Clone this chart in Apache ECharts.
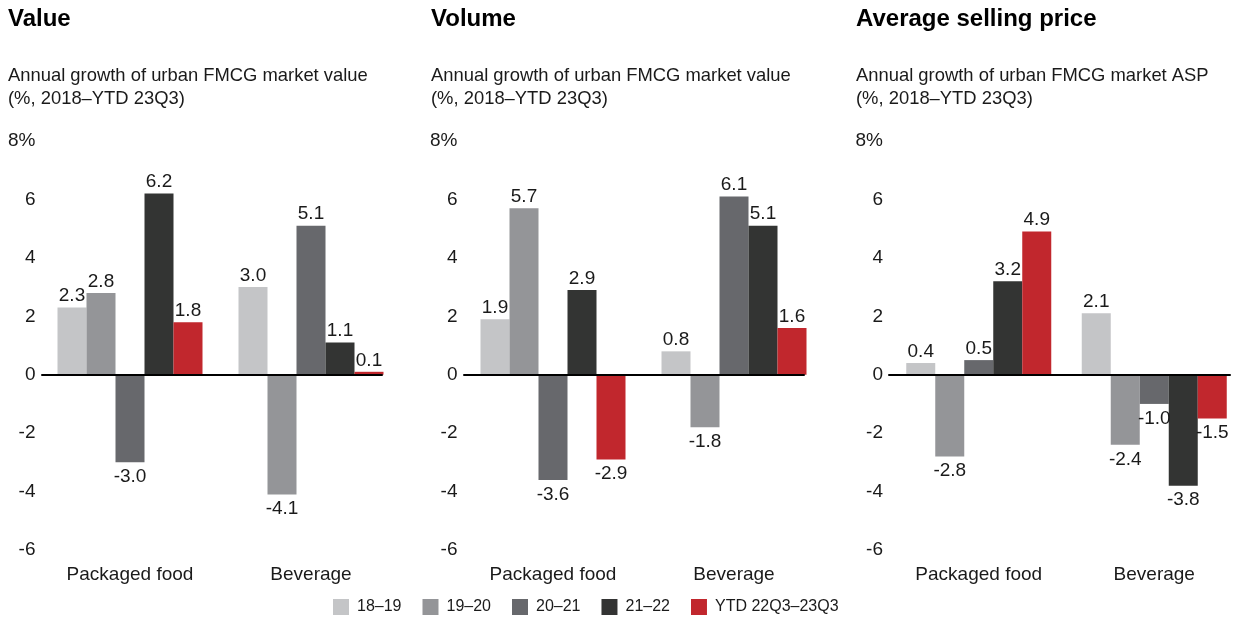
<!DOCTYPE html>
<html>
<head>
<meta charset="utf-8">
<script src="https://cdn.jsdelivr.net/npm/echarts@6/dist/echarts.min.js"></script>
<style>
  html, body { margin: 0; padding: 0; background: #fff; }
  #chart { width: 1242px; height: 620px; }
</style>
</head>
<body>
<div id="chart"></div>
<script>
// categories / periods
var categories = ['Packaged food', 'Beverage'];
var periods = ['18–19', '19–20', '20–21', '21–22', 'YTD 22Q3–23Q3'];

// one row per period: [Packaged food, Beverage]
var valueData = [[2.3, 3.0], [2.8, -4.1], [-3.0, 5.1], [6.2, 1.1], [1.8, 0.1]];
var volumeData = [[1.9, 0.8], [5.7, -1.8], [-3.6, 6.1], [2.9, 5.1], [-2.9, 1.6]];
var aspData = [[0.4, 2.1], [-2.8, -2.4], [0.5, -1.0], [3.2, -3.8], [4.9, -1.5]];

var yTicks = [-6, -4, -2, 0, 2, 4, 6, 8];

var colors = ['#c4c5c7', '#949598', '#67686c', '#333433', '#c1272d'];
var textColor = '#1a1a1a';
var font = 'Liberation Sans, Arial, sans-serif';
var fs = 19;

// left/width: bar grid; lineLeft/lineWidth: extent of the zero baseline
var panels = [
  { title: 'Value', sub: 'Annual growth of urban FMCG market value\n(%, 2018–YTD 23Q3)', data: valueData,
    left: 39.5, width: 362, lineLeft: 42, lineWidth: 340, tleft: 3, ymargin: 4 },
  { title: 'Volume', sub: 'Annual growth of urban FMCG market value\n(%, 2018–YTD 23Q3)', data: volumeData,
    left: 462.5, width: 362, lineLeft: 464, lineWidth: 340, tleft: 426, ymargin: 5 },
  { title: 'Average selling price', sub: 'Annual growth of urban FMCG market ASP\n(%, 2018–YTD 23Q3)', data: aspData,
    left: 891, width: 356, lineLeft: 889, lineWidth: 341, tleft: 851, ymargin: 8 }
];

var chart = echarts.init(document.getElementById('chart'));

var titles = [], grids = [], xAxes = [], yAxes = [], series = [];

panels.forEach(function (p, i) {
  titles.push({
    text: p.title,
    subtext: p.sub,
    left: p.tleft,
    top: 1,
    itemGap: 31,
    textStyle: { fontFamily: font, fontSize: 24, fontWeight: 'bold', color: '#000', lineHeight: 27 },
    subtextStyle: { fontFamily: font, fontSize: 18.4, color: textColor, lineHeight: 23 }
  });
  grids.push({ left: p.left, width: p.width, top: 141, height: 409 });
  xAxes.push({
    type: 'category',
    gridIndex: i,
    data: categories,
    axisLine: { show: false, onZero: false },
    axisTick: { show: false },
    axisLabel: { margin: 15, fontSize: fs, color: textColor, fontFamily: font }
  });
  yAxes.push({
    type: 'value',
    gridIndex: i,
    min: -6,
    max: 8,
    interval: 2,
    splitLine: { show: false },
    axisLine: { show: false },
    axisTick: { show: false },
    axisLabel: {
      margin: p.ymargin,
      fontSize: fs,
      color: textColor,
      fontFamily: font,
      formatter: function (v) { return v === yTicks[yTicks.length - 1] ? v + '%' : String(v); }
    }
  });
  p.data.forEach(function (row, k) {
    series.push({
      name: periods[k],
      type: 'bar',
      xAxisIndex: i,
      yAxisIndex: i,
      barWidth: 29,
      barGap: 0,
      itemStyle: { color: colors[k] },
      label: {
        show: true,
        position: 'top',
        distance: 2,
        fontSize: fs,
        color: textColor,
        fontFamily: font,
        formatter: function (d) { return d.value.toFixed(1); }
      },
      data: row.map(function (v) {
        return v < 0 ? { value: v, label: { position: 'bottom', distance: 5 } } : v;
      })
    });
  });
});

// overlay grids that only carry the black zero baseline
panels.forEach(function (p, i) {
  var gi = panels.length + i;
  grids.push({ left: p.lineLeft, width: p.lineWidth, top: 141, height: 409 });
  xAxes.push({
    type: 'category',
    gridIndex: gi,
    data: categories,
    z: 5,
    axisLine: { show: true, onZero: true, lineStyle: { color: '#000', width: 2 } },
    axisTick: { show: false },
    axisLabel: { show: false }
  });
  yAxes.push({
    type: 'value',
    gridIndex: gi,
    min: -6,
    max: 8,
    interval: 2,
    show: false
  });
});

var option = {
  animation: false,
  title: titles,
  legend: {
    data: periods,
    left: 328,
    top: 594,
    icon: 'rect',
    itemWidth: 16,
    itemHeight: 16,
    itemGap: 21,
    textStyle: { fontSize: 16, color: textColor, fontFamily: font, padding: [0, 0, 0, 3] }
  },
  grid: grids,
  xAxis: xAxes,
  yAxis: yAxes,
  series: series
};

chart.setOption(option);
</script>
</body>
</html>
